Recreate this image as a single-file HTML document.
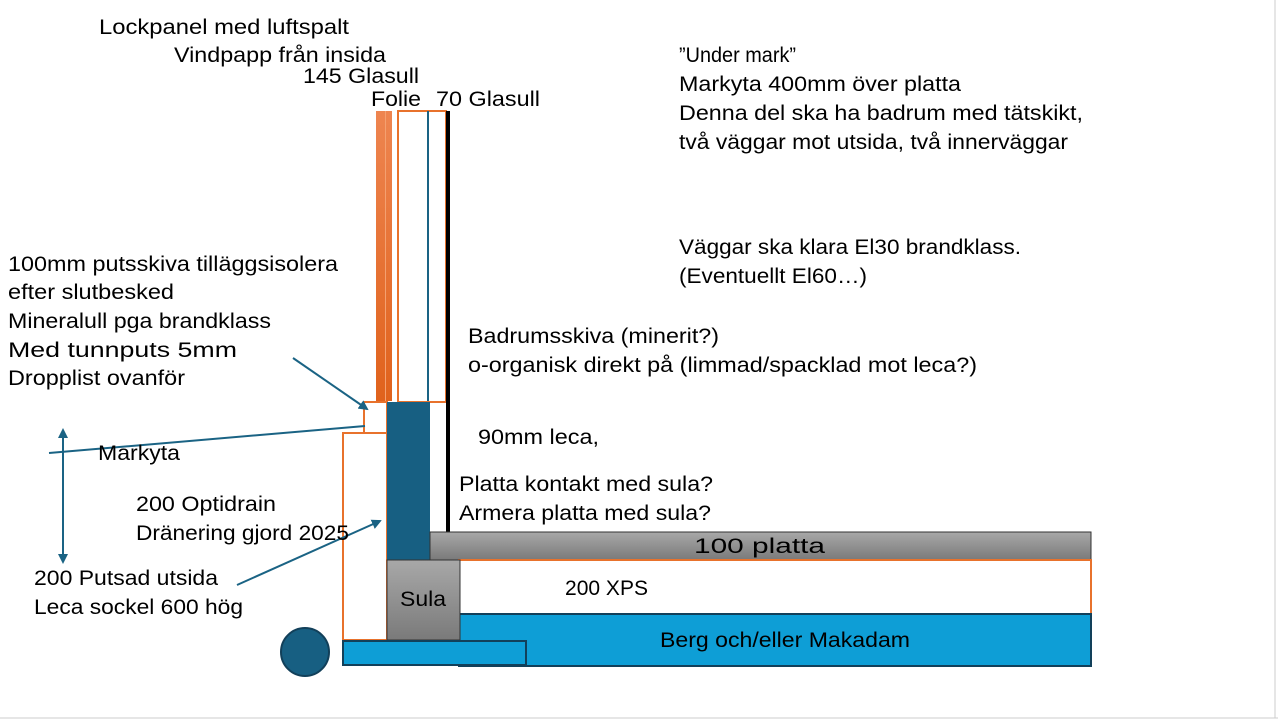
<!DOCTYPE html>
<html><head><meta charset="utf-8"><style>
html,body{margin:0;padding:0;background:#fff}
svg{display:block}
text{font-family:"Liberation Sans",sans-serif;font-size:21px;fill:#000}
</style></head><body>
<svg width="1278" height="722" viewBox="0 0 1278 722" xmlns="http://www.w3.org/2000/svg">
<defs>
<marker id="a" markerWidth="10" markerHeight="10" refX="8" refY="5" orient="auto" markerUnits="userSpaceOnUse"><path d="M0,0 L10,5 L0,10 z" fill="#1a6384"/></marker>
<marker id="b" markerWidth="10" markerHeight="10" refX="2" refY="5" orient="auto" markerUnits="userSpaceOnUse"><path d="M10,0 L0,5 L10,10 z" fill="#1a6384"/></marker>
<linearGradient id="g" x1="0" y1="0" x2="0" y2="1"><stop offset="0" stop-color="#a8a8a8"/><stop offset="1" stop-color="#7a7a7a"/></linearGradient>
<linearGradient id="o" x1="0" y1="0" x2="0" y2="1"><stop offset="0" stop-color="#ee8550"/><stop offset="1" stop-color="#e0621c"/></linearGradient>
</defs>
<line x1="1275" y1="0" x2="1275" y2="718" stroke="#ccc"/>
<line x1="0" y1="718" x2="1278" y2="718" stroke="#ccc"/>
<rect x="376" y="111" width="9" height="290" fill="url(#o)"/>
<rect x="386" y="111" width="6" height="290" fill="url(#o)"/>
<line x1="385.5" y1="111" x2="385.5" y2="401" stroke="#f4a070" stroke-width="1"/>
<rect x="398" y="111" width="48" height="291" fill="#fff" stroke="#e8722c" stroke-width="2"/>
<line x1="428" y1="111" x2="428" y2="401" stroke="#1a6384" stroke-width="2"/>
<rect x="446" y="111" width="4" height="421" fill="#000"/>
<rect x="364" y="402" width="23" height="31" fill="#fff" stroke="#e8722c" stroke-width="2"/>
<rect x="343" y="433" width="44" height="207" fill="#fff" stroke="#e8722c" stroke-width="2"/>
<rect x="387" y="402" width="43" height="158" fill="#175f82"/>
<rect x="430" y="532" width="661" height="28" fill="url(#g)" stroke="#333" stroke-width="1"/>
<rect x="459" y="560" width="632" height="54" fill="#fff" stroke="#e8722c" stroke-width="2"/>
<rect x="459" y="614" width="632" height="52" fill="#0e9ed6" stroke="#12405a" stroke-width="2"/>
<rect x="387" y="560" width="73" height="80" fill="url(#g)" stroke="#333" stroke-width="1"/>
<rect x="343" y="641" width="183" height="24" fill="#0e9ed6" stroke="#12405a" stroke-width="2"/>
<circle cx="305" cy="652" r="24" fill="#175f82" stroke="#12405a" stroke-width="2"/>
<line x1="293" y1="358" x2="367" y2="409" stroke="#1a6384" stroke-width="2" marker-end="url(#a)"/>
<line x1="49" y1="453" x2="365" y2="426" stroke="#1a6384" stroke-width="2"/>
<line x1="237" y1="585" x2="380" y2="521" stroke="#1a6384" stroke-width="2" marker-end="url(#a)"/>
<line x1="63" y1="430" x2="63" y2="562" stroke="#1a6384" stroke-width="2" marker-start="url(#b)" marker-end="url(#a)"/>
<g lengthAdjust="spacingAndGlyphs">
<text x="99" y="34" textLength="250" lengthAdjust="spacingAndGlyphs">Lockpanel med luftspalt</text>
<text x="174" y="62" textLength="212" lengthAdjust="spacingAndGlyphs">Vindpapp från insida</text>
<text x="303" y="83" textLength="116" lengthAdjust="spacingAndGlyphs">145 Glasull</text>
<text x="371" y="106" textLength="50" lengthAdjust="spacingAndGlyphs">Folie</text>
<text x="436" y="106" textLength="104" lengthAdjust="spacingAndGlyphs">70 Glasull</text>
<text x="679" y="62" textLength="117" lengthAdjust="spacingAndGlyphs">”Under mark”</text>
<text x="679" y="91" textLength="282" lengthAdjust="spacingAndGlyphs">Markyta 400mm över platta</text>
<text x="679" y="120" textLength="404" lengthAdjust="spacingAndGlyphs">Denna del ska ha badrum med tätskikt,</text>
<text x="679" y="149" textLength="389" lengthAdjust="spacingAndGlyphs">två väggar mot utsida, två innerväggar</text>
<text x="679" y="254" textLength="342" lengthAdjust="spacingAndGlyphs">Väggar ska klara El30 brandklass.</text>
<text x="679" y="283" textLength="188" lengthAdjust="spacingAndGlyphs">(Eventuellt El60…)</text>
<text x="8" y="271" textLength="330" lengthAdjust="spacingAndGlyphs">100mm putsskiva tilläggsisolera</text>
<text x="8" y="299" textLength="166" lengthAdjust="spacingAndGlyphs">efter slutbesked</text>
<text x="8" y="328" textLength="263" lengthAdjust="spacingAndGlyphs">Mineralull pga brandklass</text>
<text x="8" y="357" textLength="229" lengthAdjust="spacingAndGlyphs">Med tunnputs 5mm</text>
<text x="8" y="385" textLength="177" lengthAdjust="spacingAndGlyphs">Dropplist ovanför</text>
<text x="468" y="343" textLength="251" lengthAdjust="spacingAndGlyphs">Badrumsskiva (minerit?)</text>
<text x="468" y="372" textLength="509" lengthAdjust="spacingAndGlyphs">o-organisk direkt på (limmad/spacklad mot leca?)</text>
<text x="478" y="444" textLength="121" lengthAdjust="spacingAndGlyphs">90mm leca,</text>
<text x="98" y="460" textLength="82" lengthAdjust="spacingAndGlyphs">Markyta</text>
<text x="459" y="491" textLength="254" lengthAdjust="spacingAndGlyphs">Platta kontakt med sula?</text>
<text x="459" y="520" textLength="252" lengthAdjust="spacingAndGlyphs">Armera platta med sula?</text>
<text x="136" y="511" textLength="140" lengthAdjust="spacingAndGlyphs">200 Optidrain</text>
<text x="136" y="540" textLength="213" lengthAdjust="spacingAndGlyphs">Dränering gjord 2025</text>
<text x="694" y="553" textLength="131" lengthAdjust="spacingAndGlyphs">100 platta</text>
<text x="34" y="585" textLength="184" lengthAdjust="spacingAndGlyphs">200 Putsad utsida</text>
<text x="34" y="614" textLength="209" lengthAdjust="spacingAndGlyphs">Leca sockel 600 hög</text>
<text x="400" y="606" textLength="46" lengthAdjust="spacingAndGlyphs">Sula</text>
<text x="565" y="595" textLength="83" lengthAdjust="spacingAndGlyphs">200 XPS</text>
<text x="660" y="647" textLength="250" lengthAdjust="spacingAndGlyphs">Berg och/eller Makadam</text>
</g>
</svg>
</body></html>
